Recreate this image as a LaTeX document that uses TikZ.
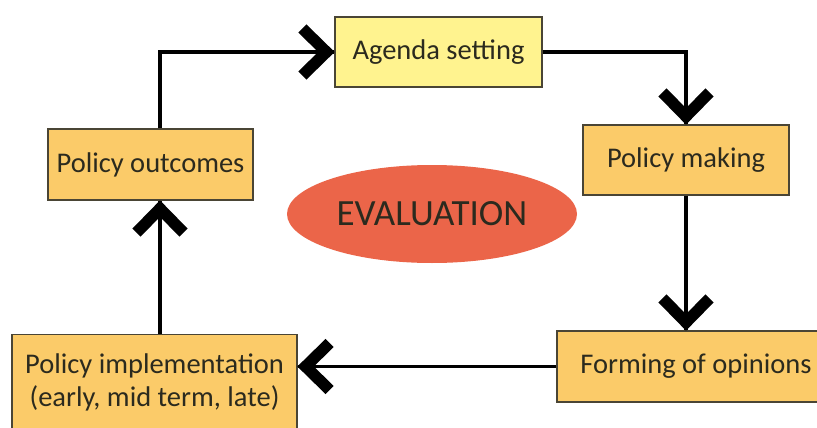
\documentclass[tikz,border=0pt]{standalone}
\usepackage{fontspec}
\setmainfont{Carlito}
\usetikzlibrary{shapes.geometric,decorations.markings}
\newcommand{\stageFont}[0]{\fontsize{28.5}{33}\selectfont}
\newcommand{\evalFont}[0]{\fontsize{37}{40}\selectfont}
\newcommand{\flowWidth}[0]{3.8pt}
\definecolor{agendayellow}{HTML}{FFF38F}
\definecolor{stageorange}{HTML}{FBCB69}
\definecolor{evalred}{HTML}{EB6549}
\definecolor{framegray}{HTML}{4A4535}
\definecolor{inkdark}{HTML}{2B2A1E}

\begin{document}
\begin{tikzpicture}[x=1pt, y=-1pt]
  \tikzset{stage/.style={draw=framegray, line width=1.2pt, fill=stageorange, align=center, inner sep=0pt, text=inkdark, font=\stageFont},
    flow/.style={line width=\flowWidth, postaction={decorate},
      decoration={markings, mark=at position 1 with {\draw[line width=11.5pt, line cap=butt, line join=miter] (-32pt,-23.5pt) -- (-8pt,0pt) -- (-32pt,23.5pt);}}}}
  \useasboundingbox (0,0) rectangle (817,428);
  \clip (0,0) rectangle (817,428);
  \node[stage, fill=agendayellow, minimum width=207pt, minimum height=70pt] (agenda) at (438.5,52) {Agenda setting};
  \node[stage, minimum width=206pt, minimum height=70pt] (making) at (686,160) {Policy making};
  \node[stage, minimum width=278pt, minimum height=71pt] (opinions) at (696,366.5) {Forming of opinions};
  \node[stage, minimum width=285pt, minimum height=95pt] (implementation) at (154.5,382) {Policy implementation\\(early, mid term, late)};
  \node[stage, minimum width=205pt, minimum height=71pt] (outcomes) at (150.5,164.5) {Policy outcomes};
  \node[ellipse, fill=evalred, minimum width=290pt, minimum height=98pt, inner sep=0pt, text=inkdark, font=\evalFont] (evaluation) at (432,214) {EVALUATION};
  \coordinate (leftrail) at (160,0);
  \draw[flow] (outcomes.north -| leftrail) |- (agenda.west);
  \draw[flow] (agenda.east) -| (making.north);
  \draw[flow] (making.south) -- (making.south |- opinions.north);
  \draw[flow] (opinions.west) -- (opinions.west -| implementation.east);
  \draw[flow] (implementation.north -| leftrail) -- (outcomes.south -| leftrail);
\end{tikzpicture}
\end{document}
